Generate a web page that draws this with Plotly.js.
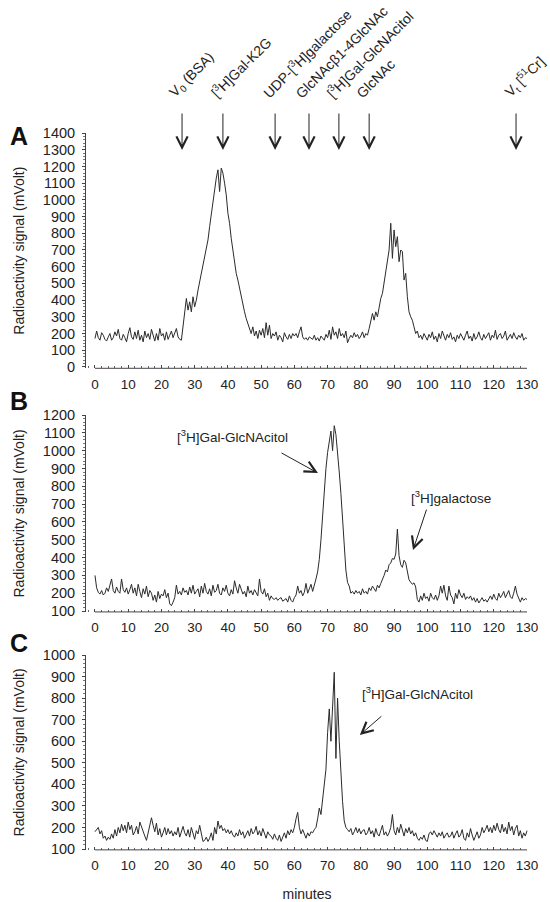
<!DOCTYPE html>
<html>
<head>
<meta charset="utf-8">
<script src="https://cdn.plot.ly/plotly-3.0.1.min.js"></script>
<style>html,body{margin:0;padding:0;background:#fff;}#chart{width:550px;height:902px;}</style>
</head>
<body>
<div id="chart"></div>
<script>
// Sampling: every 0.5 minute from 0 to 130 min
var timeStart = 0;
var timeStep = 0.5;

// Panel A: radioactivity signal (mVolt)
var signalA = [
  170,215,175,160,205,190,165,155,180,200, 160,175,210,185,225,170,160,195,175,150,
  200,235,180,165,210,170,220,160,190,150, 215,175,200,165,225,180,155,200,160,230,
  185,200,160,210,165,190,215,175,200,230, 180,165,160,240,330,410,340,390,330,420,
  360,400,460,510,560,600,650,700,760,840, 920,1000,1080,1130,1180,1050,1190,1160,1100,1030,
  920,860,770,700,620,560,520,470,420,360, 330,290,260,230,200,240,185,215,170,220,
  190,230,175,265,190,250,170,200,185,210, 160,190,175,150,205,180,165,195,170,200,
  185,200,175,210,240,180,165,175,160,180, 170,165,190,160,175,155,185,170,160,195,
  175,220,165,240,190,210,170,230,185,200, 175,215,145,170,190,175,205,180,195,170,
  185,210,175,200,190,230,280,320,280,330, 300,360,410,440,500,560,620,700,860,650,
  820,720,780,630,700,690,520,560,420,330, 300,280,240,200,215,175,190,165,200,180,
  160,195,175,210,165,185,150,200,170,215, 185,160,195,175,205,165,180,150,190,170,
  200,175,160,190,215,170,185,155,200,165, 180,210,175,160,195,170,185,205,160,190,
  175,220,165,190,200,170,185,215,160,180, 195,170,205,180,165,190,175,200,160,175,
  170
];

// Panel B
var signalB = [
  300,230,205,195,215,190,200,230,210,245, 280,215,200,235,210,200,280,220,205,230,
  195,220,250,200,230,185,250,210,175,225, 195,240,180,215,200,160,190,150,210,170,
  195,185,220,175,200,140,130,150,175,245, 195,210,190,230,205,215,190,235,200,245,
  195,210,225,180,240,200,255,210,195,225, 185,245,205,215,250,200,190,230,210,245,
  200,185,220,195,270,230,200,250,215,195, 210,180,240,200,215,190,220,200,185,280,
  210,195,225,180,200,160,185,170,165,175, 160,170,175,155,165,170,150,185,160,150,
  175,190,240,200,215,185,205,255,200,230, 250,210,240,280,320,390,500,650,780,900,
  990,1060,1110,1000,1140,1090,1000,880,760,600, 480,330,260,240,200,210,195,215,200,210,
  190,225,200,210,195,230,215,240,225,210, 245,230,255,275,300,330,320,360,370,395,
  390,420,560,410,360,345,385,370,310,275, 262,250,258,235,165,150,185,160,200,170,
  180,155,200,175,165,190,160,185,240,200, 245,185,160,240,190,175,140,200,170,220,
  190,175,200,165,180,170,185,160,175,150, 170,145,160,175,155,165,150,170,185,165,
  195,170,160,200,175,190,210,175,195,215, 180,170,200,240,195,170,150,175,160,170,
  165
];

// Panel C
var signalC = [
  180,190,200,170,185,150,160,140,155,145, 170,150,190,160,200,175,215,185,210,175,
  225,190,210,165,180,205,170,225,200,185, 160,140,175,205,245,210,180,220,165,195,
  155,175,200,165,195,170,185,160,180,165, 200,155,185,205,175,160,190,155,200,165,
  145,185,170,210,165,135,140,155,135,150, 175,140,200,170,230,195,210,185,195,175,
  190,170,185,165,155,175,160,190,165,180, 150,170,185,160,195,170,180,205,165,185,
  160,195,170,150,180,165,160,145,170,150, 140,165,135,160,175,150,185,165,190,175,
  200,240,270,200,170,190,165,150,175,160, 180,175,190,200,240,290,260,340,420,470,
  640,750,600,800,920,520,800,600,450,320, 230,200,190,180,195,165,180,200,175,195,
  170,185,190,165,175,200,170,185,155,195, 170,160,185,210,165,180,160,175,200,260,
  185,165,200,175,215,190,160,195,175,200, 170,185,160,175,150,140,155,145,165,140,
  135,170,180,165,185,170,155,175,160,180, 150,165,175,155,160,180,150,170,185,155,
  165,190,150,140,175,155,195,165,140,160, 180,150,165,200,175,190,210,180,200,175,
  210,185,220,190,175,215,180,200,170,225, 185,205,165,195,210,160,185,150,175,160,
  185
];

// Elution markers (minutes) and their labels
var markerTimes = [26.2, 38.5, 54.2, 64.4, 73.4, 82.5, 126.7];
var markerLabels = ['V<sub>0</sub> (BSA)', '[<sup>3</sup>H]Gal-K2G', 'UDP-[<sup>3</sup>H]galactose',
  'GlcNAcβ1-4GlcNAc', '[<sup>3</sup>H]Gal-GlcNAcitol', 'GlcNAc', 'V<sub>t</sub> [<sup>51</sup>Cr]'];

// Peak annotations: [panel, arrow head time, arrow head signal, label, label time, label signal]
var peakNotes = [
  ['2', 67.1, 874, '[<sup>3</sup>H]Gal-GlcNAcitol', 41.5, 1082],
  ['2', 95.7, 442, '[<sup>3</sup>H]galactose', 107.1, 740],
  ['3', 79.7, 629, '[<sup>3</sup>H]Gal-GlcNAcitol', 96.9, 823]
];
var peakArrowOffsets = [[-38, -21], [14, -42], [23, -20]];

var panelLetters = ['A', 'B', 'C'];
var yRanges = [[-8, 1400], [95, 1200], [96, 1000]];
var xTickLabels = ['0','10','20','30','40','50','60','70','80','90','100','110','120','130'];
var xTickVals = [0,10,20,30,40,50,60,70,80,90,100,110,120,130];

var FONT = 'Liberation Sans, Arial, Helvetica, sans-serif';
var lineColor = '#2b2b2b';

function trace(sig, n) {
  return {
    type: 'scatter', mode: 'lines', y: sig, x0: timeStart, dx: timeStep,
    xaxis: 'x' + (n === 1 ? '' : n), yaxis: 'y' + (n === 1 ? '' : n),
    line: {color: lineColor, width: 1}, hoverinfo: 'x+y', showlegend: false
  };
}

var data = [trace(signalA, 1), trace(signalB, 2), trace(signalC, 3)];

var yDomains = [[0.5917, 0.8525], [0.3216, 0.5399], [0.0578, 0.2738]];
var xDomain = [86 / 550, 528 / 550];

var layout = {
  width: 550, height: 902,
  margin: {l: 0, r: 0, t: 0, b: 0},
  paper_bgcolor: '#fff', plot_bgcolor: '#fff',
  font: {family: FONT, size: 13, color: '#222'},
  showlegend: false,
  shapes: [],
  annotations: []
};

for (var i = 0; i < 3; i++) {
  var s = i === 0 ? '' : String(i + 1);
  layout['xaxis' + s] = {
    domain: xDomain, range: [-2.7, 130.3], anchor: 'y' + s,
    tickmode: 'array', tickvals: xTickVals, ticktext: xTickLabels,
    ticks: 'inside', ticklen: 3, tickwidth: 1, tickcolor: '#444',
    minor: {dtick: 2, tick0: 0, ticks: 'inside', ticklen: 2, tickcolor: '#666'},
    showline: false, showgrid: false, zeroline: false, automargin: false,
    ticklabelstandoff: 6,
    tickfont: {family: FONT, size: 13.5, color: '#222'}
  };
  layout['yaxis' + s] = {
    domain: yDomains[i], range: yRanges[i], anchor: 'x' + s,
    dtick: 100, tick0: 0, ticks: 'outside', ticklen: 3, tickwidth: 1, tickcolor: '#444',
    minor: {dtick: 20, ticks: 'outside', ticklen: 2, tickcolor: '#777'},
    showline: true, linecolor: '#444', linewidth: 1,
    showgrid: false, zeroline: false, automargin: false,
    ticklabelstandoff: 4,
    tickfont: {family: FONT, size: 14.5, color: '#222'},
    title: {text: 'Radioactivity signal (mVolt)', font: {family: FONT, size: 14, color: '#222'}, standoff: 14}
  };
  layout.shapes.push({type: 'line', xref: 'x' + s, yref: 'y' + s + ' domain', x0: 0, x1: 130, y0: 0, y1: 0,
    line: {color: '#444', width: 1}});
}
layout.xaxis3.title = {text: 'minutes', font: {family: FONT, size: 14, color: '#222'}, standoff: 16};

// panel letters
var letterY = [136, 401, 643];
for (var k = 0; k < 3; k++) {
  layout.annotations.push({xref: 'paper', yref: 'paper', x: 19 / 550, y: 1 - letterY[k] / 902,
    text: '<b>' + panelLetters[k] + '</b>', showarrow: false, xanchor: 'center', yanchor: 'middle',
    font: {family: FONT, size: 25, color: '#111'}});
}

// top markers
for (var m = 0; m < markerTimes.length; m++) {
  layout.annotations.push({xref: 'x', yref: 'paper', x: markerTimes[m], y: 1 - 150 / 902,
    ax: 0, ay: -38, text: '', showarrow: true, arrowhead: 5, arrowsize: 2.2, arrowwidth: 1, arrowcolor: '#222'});
  layout.annotations.push({xref: 'x', yref: 'paper', x: markerTimes[m], y: 1 - 104 / 902,
    xshift: -19, text: markerLabels[m], showarrow: false, textangle: -45,
    xanchor: 'left', yanchor: 'bottom', font: {family: FONT, size: 14, color: '#222'}});
}

// peak notes
for (var p = 0; p < peakNotes.length; p++) {
  var n = peakNotes[p];
  layout.annotations.push({xref: 'x' + n[0], yref: 'y' + n[0], x: n[1], y: n[2],
    ax: peakArrowOffsets[p][0], ay: peakArrowOffsets[p][1], text: '', showarrow: true,
    arrowhead: 5, arrowsize: 2.2, arrowwidth: 1, arrowcolor: '#222'});
  layout.annotations.push({xref: 'x' + n[0], yref: 'y' + n[0], x: n[4], y: n[5],
    text: n[3], showarrow: false, xanchor: 'center', yanchor: 'middle',
    font: {family: FONT, size: 13.5, color: '#222'}});
}

Plotly.newPlot('chart', data, layout, {displayModeBar: false, staticPlot: true});
</script>
</body>
</html>
